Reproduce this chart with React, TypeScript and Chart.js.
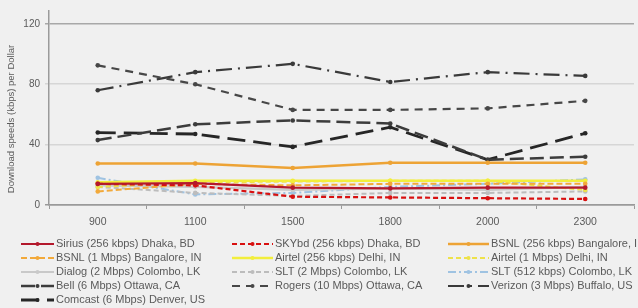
import { useEffect, useRef } from 'react';
import { Chart, registerables } from 'chart.js';

Chart.register(...registerables);

const categories = ['900', '1100', '1500', '1800', '2000', '2300'];
const yTickValues = [0, 40, 80, 120];
const yTitle = 'Download speeds (kbps) per Dollar';

const seriesLabels = [
  'Sirius (256 kbps) Dhaka, BD',
  'SKYbd (256 kbps) Dhaka, BD',
  'BSNL (256 kbps) Bangalore, IN',
  'BSNL (1 Mbps) Bangalore, IN',
  'Airtel (256 kbps) Delhi, IN',
  'Airtel (1 Mbps) Delhi, IN',
  'Dialog (2 Mbps) Colombo, LK',
  'SLT (2 Mbps) Colombo, LK',
  'SLT (512 kbps) Colombo, LK',
  'Bell (6 Mbps) Ottawa, CA',
  'Rogers (10 Mbps) Ottawa, CA',
  'Verizon (3 Mbps) Buffalo, US',
  'Comcast (6 Mbps) Denver, US',
];

const sirius = [14, 14.5, 11.5, 11, 11.5, 11.5];
const skybd = [14, 13, 5.5, 5, 4.5, 4];
const bsnl256 = [27.5, 27.5, 24.5, 28, 28, 28];
const bsnl1m = [9, 14, 13, 14, 14, 14];
const airtel256 = [15, 16, 16, 16, 16, 16];
const airtel1m = [12, 15, 15.5, 16, 16, 10];
const dialog = [13, 12, 10, 11, 10, 12];
const slt2m = [12, 8, 6, 8, 8, 9];
const slt512 = [18, 7, 8, 12, 14, 17];
const bell = [43, 53.5, 56, 54, 30, 32];
const rogers = [92.5, 80, 63, 63, 64, 69];
const verizon = [76, 88, 93.5, 81.5, 88, 85.5];
const comcast = [48, 47, 38.5, 51.5, 30, 47.5];

const seriesValues = [sirius, skybd, bsnl256, bsnl1m, airtel256, airtel1m, dialog, slt2m, slt512, bell, rogers, verizon, comcast];
const seriesColors = ['#b3182c', '#d81010', '#eda335', '#f2a93a', '#f2ee3c', '#eee24a', '#c9c9c9', '#bcbcbc', '#9fc3e2', '#3c3c3c', '#474747', '#3a3a3a', '#262626'];
const seriesDash = [[], [5, 3], [], [6, 3], [], [5, 3], [], [5, 3], [8, 3, 2, 3], [14, 6], [8, 6], [16, 6, 2, 6], [18, 8]];
const seriesWidth = [2.2, 2.2, 2.5, 2, 2.5, 2, 2.2, 2, 2, 2.5, 2.2, 2.2, 2.8];

const legendCols = [21, 232, 448];
const legendRows = [244, 258, 272, 286, 300];
const FONT = '"Liberation Sans", Arial, sans-serif';

export default function App() {
  const ref = useRef<HTMLCanvasElement>(null);
  useEffect(() => {
    if (!ref.current) return;
    const legendPlugin = {
      id: 'customLegend',
      afterDraw(chart: any) {
        const ctx = chart.ctx;
        ctx.save();
        chart.data.datasets.forEach((ds: any, i: number) => {
          const col = i % 3;
          const row = Math.floor(i / 3);
          const x0 = legendCols[col];
          const y = legendRows[row];
          const lineLen = col === 0 ? 33 : 41;
          ctx.strokeStyle = ds.borderColor;
          ctx.lineWidth = ds.borderWidth;
          ctx.setLineDash(ds.borderDash || []);
          ctx.beginPath();
          ctx.moveTo(x0, y);
          ctx.lineTo(x0 + lineLen, y);
          ctx.stroke();
          ctx.setLineDash([]);
          ctx.fillStyle = ds.pointBackgroundColor;
          ctx.beginPath();
          ctx.arc(x0 + lineLen / 2, y, 2, 0, Math.PI * 2);
          ctx.fill();
          ctx.fillStyle = '#5a5a5a';
          ctx.font = '11px ' + FONT;
          ctx.textBaseline = 'middle';
          ctx.textAlign = 'left';
          ctx.fillText(ds.label, x0 + lineLen + 2, y);
        });
        // y-axis title
        ctx.translate(11, 119);
        ctx.rotate(-Math.PI / 2);
        ctx.fillStyle = '#5a5a5a';
        ctx.font = '9.5px ' + FONT;
        ctx.textAlign = 'center';
        ctx.textBaseline = 'middle';
        ctx.fillText(yTitle, 0, 0);
        ctx.restore();
      },
    };
    const chart = new Chart(ref.current, {
      type: 'line',
      data: {
        labels: categories,
        datasets: seriesLabels.map((label, i) => ({
          label,
          data: seriesValues[i],
          borderColor: seriesColors[i],
          backgroundColor: seriesColors[i],
          pointBackgroundColor: seriesColors[i],
          pointBorderColor: seriesColors[i],
          pointBorderWidth: 0,
          borderDash: seriesDash[i],
          borderWidth: seriesWidth[i],
          pointRadius: 2.3,
          tension: 0,
          fill: false,
        })),
      },
      options: {
        animation: false,
        responsive: false,
        layout: { padding: { left: 0, top: 2, right: 1, bottom: 0 } },
        plugins: { legend: { display: false }, tooltip: { enabled: false } },
        scales: {
          x: {
            offset: true,
            grid: { drawOnChartArea: false, drawTicks: true, tickLength: 4, color: '#9a9a9a', offset: true },
            border: { display: true, color: '#9a9a9a', width: 1.5 },
            ticks: { color: '#5a5a5a', font: { family: FONT, size: 10.5 }, padding: 7 },
            afterFit(scale: any) { scale.height = 103; },
          },
          y: {
            min: 0,
            max: 128.5,
            afterBuildTicks(scale: any) { scale.ticks = yTickValues.map((v) => ({ value: v })); },
            grid: {
              drawTicks: true,
              tickLength: 4,
              color: (c: any) => (c.tick && c.tick.value === 120 ? '#a8a8a8' : c.tick && c.tick.value === 0 ? '#9a9a9a' : '#d6d6d6'),
              lineWidth: 1.5,
            },
            border: { display: true, color: '#9a9a9a', width: 1.5 },
            ticks: { color: '#5a5a5a', font: { family: FONT, size: 10 }, padding: 5 },
            afterFit(scale: any) { scale.width = 49; },
          },
        },
      },
      plugins: [legendPlugin],
    });
    return () => chart.destroy();
  }, []);
  return (
    <div style={{ position: 'fixed', left: 0, top: 0, width: 638, height: 308, background: '#f0f0f0' }}>
      <canvas ref={ref} width={638} height={308} style={{ display: 'block', width: 638, height: 308 }} />
    </div>
  );
}
